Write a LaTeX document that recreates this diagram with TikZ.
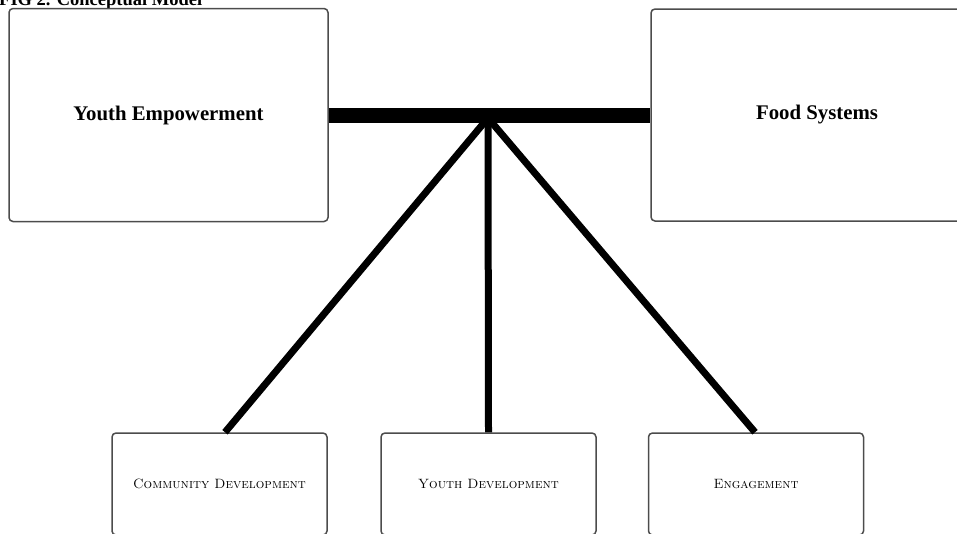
\documentclass[tikz,border=0pt]{standalone}
\usepackage{fontspec}
\newfontfamily\boxfont{Liberation Serif}

\tikzset{
    bigbox/.style={draw=gray!60!black, line width=1.5pt, rounded corners=4pt,
        inner sep=0pt, font=\boxfont\bfseries\fontsize{20.8}{24}\selectfont},
    smallbox/.style={draw=gray!60!black, line width=1.5pt, rounded corners=4pt,
        inner sep=0pt, minimum width=215pt, minimum height=102pt,
        font=\fontsize{13.5}{16}\selectfont\scshape},
    bar/.style={line width=15pt},
    spoke/.style={line width=7pt}
}

\begin{document}
\begin{tikzpicture}[x=1pt, y=-1pt]
    \clip (0,0) rectangle (957,533);

    % title (cut at the top)
    \node[anchor=base west, inner sep=0pt, font=\boxfont\bfseries\fontsize{18.5}{22}\selectfont] (title) at (-1,5) {FIG 2. Conceptual Model};

    % top boxes
    \node[bigbox, minimum width=319pt, minimum height=213pt] (emp) at (168.5,115) {Youth Empowerment};
    \node[bigbox, minimum width=332pt, minimum height=212pt] (food) at (817,115) {Food Systems};

    % bottom boxes
    \node[smallbox] (comm) at (219.5,484) {Community Development};
    \node[smallbox] (ydev) at (488.5,484) {Youth Development};
    \node[smallbox] (enga) at (756,484) {Engagement};

    % spokes
    \coordinate (hub) at (488,118);
    \draw[spoke] (hub) -- ([xshift=5.5pt]comm.north);
    \draw[spoke] (hub) -- (ydev.north);
    \draw[spoke] (hub) -- ([xshift=-1pt]enga.north);

    % bar between the top boxes
    \draw[bar] (emp.east) -- (food.west);
\end{tikzpicture}
\end{document}
